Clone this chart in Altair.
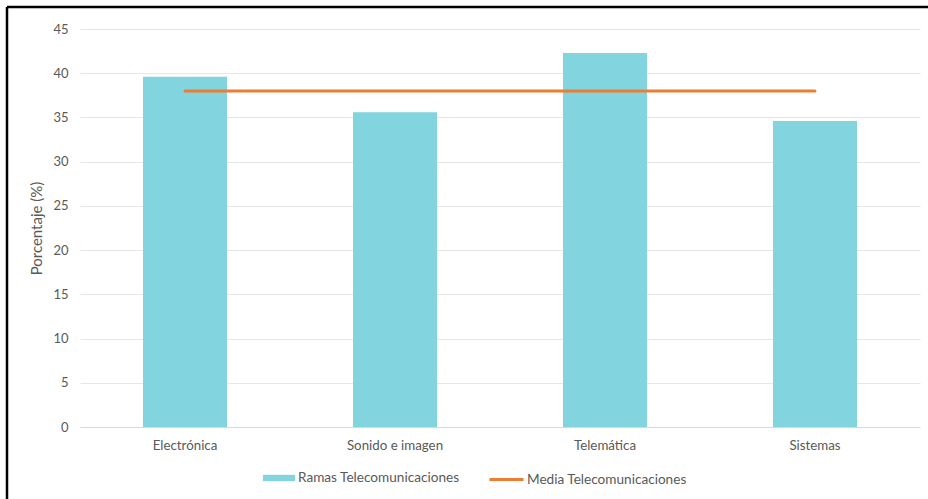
import altair as alt
import pandas as pd

categorias = ["Electrónica", "Sonido e imagen", "Telemática", "Sistemas"]
porcentajes = [39.6, 35.6, 42.3, 34.6]
media = [38.0, 38.0, 38.0, 38.0]
serie_barras = "Ramas Telecomunicaciones"
serie_linea = "Media Telecomunicaciones"
y_ticks = [0, 5, 10, 15, 20, 25, 30, 35, 40, 45]

df = pd.DataFrame({"cat": categorias, "valor": porcentajes, "media": media})
df["s_bar"] = serie_barras
df["s_line"] = serie_linea

FONT = "Lato"
TEAL = "#82D4DE"
ORANGE = "#ED7D31"
GRAY = "#595959"

legend_common = dict(title=None, orient="none", direction="horizontal",
                     labelFont=FONT, labelFontSize=13.6, labelColor=GRAY,
                     labelLimit=400)

x_enc = alt.X("cat:N", sort=categorias, title=None,
              scale=alt.Scale(paddingInner=0.6, paddingOuter=0.3),
              axis=alt.Axis(labelAngle=0, labelFont=FONT, labelFontSize=13.3,
                            labelColor=GRAY, ticks=False, domainColor="#d9d9d9",
                            labelPadding=11, grid=False))

bars = alt.Chart(df).mark_bar(size=84).encode(
    x=x_enc,
    y=alt.Y("valor:Q", scale=alt.Scale(domain=[0, 45], nice=False),
            title="Porcentaje (%)",
            axis=alt.Axis(values=y_ticks, labelFont=FONT, labelFontSize=13,
                          labelColor=GRAY, titleFont=FONT, titleFontSize=15,
                          titleColor=GRAY, titleFontWeight="normal",
                          ticks=False, domain=False, gridColor="#e6e6e6",
                          labelPadding=12, titlePadding=8)),
    fill=alt.Fill("s_bar:N", scale=alt.Scale(domain=[serie_barras], range=[TEAL]),
                  legend=alt.Legend(symbolType="M-1,-0.2H1V0.2H-1Z", symbolSize=1024,
                                    symbolStrokeWidth=0, symbolOpacity=1,
                                    labelOffset=3,
                                    legendX=183, legendY=433, **legend_common)),
)

line = alt.Chart(df).mark_line(strokeWidth=3, strokeCap="round").encode(
    x=alt.X("cat:N", sort=categorias),
    y=alt.Y("media:Q"),
    stroke=alt.Stroke("s_line:N", scale=alt.Scale(domain=[serie_linea], range=[ORANGE]),
                      legend=alt.Legend(symbolType="stroke", symbolSize=1156,
                                        symbolStrokeWidth=3, labelOffset=2,
                                        legendX=408, legendY=432, **legend_common)),
)

frame = pd.DataFrame({"d": [0]})
top_border = alt.Chart(frame).mark_rule(color="black", strokeWidth=2.5).encode(
    x=alt.value(-73), x2=alt.value(860), y=alt.value(-22))
left_border = alt.Chart(frame).mark_rule(color="black", strokeWidth=2.5).encode(
    x=alt.value(-73), y=alt.value(-22), y2=alt.value(480))

chart = alt.layer(bars, line, top_border, left_border).properties(
    width=840, height=398,
    autosize=alt.AutoSizeParams(type="none"),
    padding={"left": 80, "top": 29, "right": 8, "bottom": 72},
    background="white",
).resolve_scale(fill="independent", stroke="independent").configure_view(stroke=None)

chart.save("out.html", embed_options={"renderer": "svg", "actions": False})
